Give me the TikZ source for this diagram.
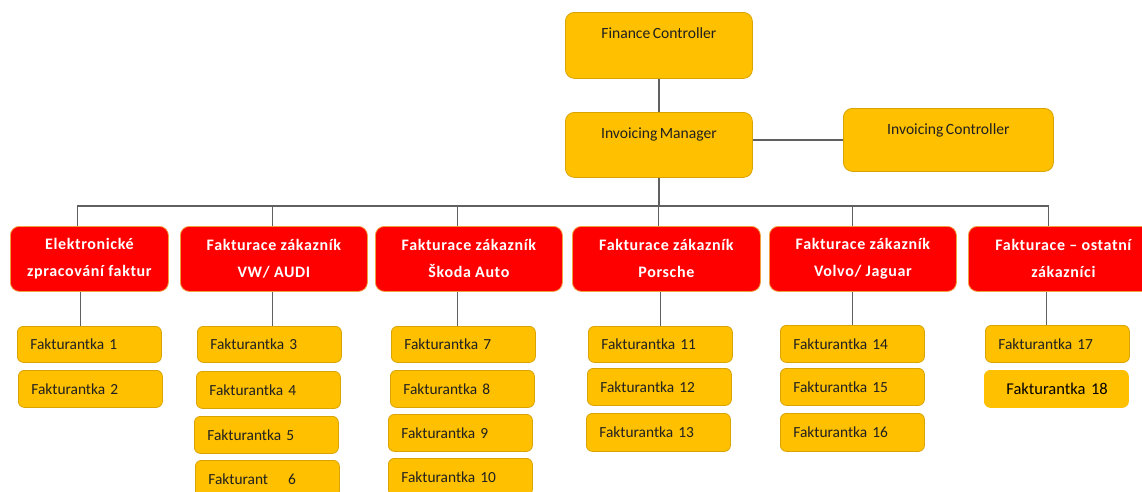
\documentclass[tikz,border=0pt]{standalone}
\usepackage{fontspec}
\setmainfont[WordSpace=0.7]{Carlito}
\newfontfamily\redfont[LetterSpace=4]{Carlito}
\definecolor{yel}{HTML}{FFC000}
\definecolor{ybord}{HTML}{D9A300}
\definecolor{rd}{HTML}{FF0000}
\definecolor{rbord}{HTML}{F0A040}
\definecolor{ln}{HTML}{606060}
\definecolor{txt}{HTML}{202020}
\begin{document}
\begin{tikzpicture}[x=1pt,y=-1pt,
  conn/.style={draw=ln, line width=1.4pt},
  topbox/.style={draw=ybord, fill=yel, line width=0.8pt, rounded corners=9pt,
    anchor=north west, inner xsep=0pt, inner ysep=0pt, text=txt,
    font=\fontsize{15.6}{17}\selectfont, text height=25.7pt},
  redbox/.style={draw=rbord, fill=rd, line width=0.8pt, rounded corners=9pt,
    anchor=north west, inner sep=0pt, minimum height=65pt, align=center,
    text=white, font=\redfont\bfseries\fontsize{16}{27}\selectfont},
  fbox/.style={draw=ybord, fill=yel, line width=0.8pt, rounded corners=6pt,
    anchor=north west, inner xsep=13pt, inner ysep=0pt, text width=118pt,
    minimum height=37pt, align=left, text=txt, font=\fontsize{15.4}{17}\selectfont},
]
\useasboundingbox (0,0) rectangle (1142,491);
\clip (0,0) rectangle (1142,491);

% top
\node[topbox, minimum width=187pt, text depth=40.3pt] (FC) at (565,12) {Finance Controller};
\node[topbox, minimum width=187pt, text depth=39.3pt] (IM) at (565,112) {Invoicing Manager};
\node[topbox, minimum width=210pt, text depth=37.3pt] (IC) at (843,108) {Invoicing Controller};

% red
\node[redbox, minimum width=158pt] (R1) at (10,226) {Elektronické\\zpracování faktur};
\node[redbox, minimum width=187pt] (R2) at (180,226) {Fakturace zákazník\\VW/ AUDI};
\node[redbox, minimum width=187pt] (R3) at (375,226) {Fakturace zákazník\\Škoda Auto};
\node[redbox, minimum width=188pt] (R4) at (572,226) {Fakturace zákazník\\Porsche};
\node[redbox, minimum width=187pt] (R5) at (769,226) {Fakturace zákazník\\Volvo/ Jaguar};
\node[redbox, minimum width=190pt] (R6) at (968,226) {Fakturace – ostatní\\zákazníci};

% yellow staff
\node[fbox, minimum height=36pt] (F1) at (17,326) {Fakturantka 1};
\node[fbox] (F2) at (18,370) {Fakturantka 2};
\node[fbox, minimum height=36pt] (F3) at (197,326) {Fakturantka 3};
\node[fbox] (F4) at (196,371) {Fakturantka 4};
\node[fbox] (F5) at (194,416) {Fakturantka 5};
\node[fbox] (F6) at (195,460) {Fakturant\hspace{1.3em}6};
\node[fbox, minimum height=36pt] (F7) at (391,326) {Fakturantka 7};
\node[fbox] (F8) at (390,370) {Fakturantka 8};
\node[fbox] (F9) at (388,414) {Fakturantka 9};
\node[fbox] (F10) at (388,458) {Fakturantka 10};
\node[fbox, minimum height=36pt] (F11) at (588,326) {Fakturantka 11};
\node[fbox] (F12) at (587,368) {Fakturantka 12};
\node[fbox, minimum height=38pt] (F13) at (586,413) {Fakturantka 13};
\node[fbox] (F14) at (780,325) {Fakturantka 14};
\node[fbox] (F15) at (780,368) {Fakturantka 15};
\node[fbox, minimum height=38pt] (F16) at (780,413) {Fakturantka 16};
\node[fbox] (F17) at (985,325) {Fakturantka 17};
\node[fbox, draw=yel, text=black, font=\fontsize{16.5}{18}\selectfont] (F18) at (984,370) {\hspace*{9pt}Fakturantka 18};

% connectors
\coordinate (bus) at (658,206);
\draw[conn] (FC.south) -- (IM.north);
\draw[conn] (IC.west) -- (IC.west -| IM.east);
\draw[conn] (IM.south) -- (IM.south |- bus);
\draw[conn] ([xshift=-12pt]R1.north) |- (bus) -| ([xshift=-15pt]R6.north);
\draw[conn] ([xshift=-1.5pt]R2.north) -- ([xshift=-1.5pt]R2.north |- bus);
\draw[conn] ([xshift=-11.5pt]R3.north) -- ([xshift=-11.5pt]R3.north |- bus);
\draw[conn] ([xshift=-8pt]R4.north) -- ([xshift=-8pt]R4.north |- bus);
\draw[conn] ([xshift=-10.5pt]R5.north) -- ([xshift=-10.5pt]R5.north |- bus);

\draw[conn] ([xshift=-9pt]R1.south) -- ([xshift=-9pt]R1.south |- F1.north);
\draw[conn] ([xshift=-1.5pt]R2.south) -- ([xshift=-1.5pt]R2.south |- F3.north);
\draw[conn] ([xshift=-11.5pt]R3.south) -- ([xshift=-11.5pt]R3.south |- F7.north);
\draw[conn] ([xshift=-6pt]R4.south) -- ([xshift=-6pt]R4.south |- F11.north);
\draw[conn] ([xshift=-10.5pt]R5.south) -- ([xshift=-10.5pt]R5.south |- F14.north);
\draw[conn] ([xshift=-17pt]R6.south) -- ([xshift=-17pt]R6.south |- F17.north);
\end{tikzpicture}
\end{document}
